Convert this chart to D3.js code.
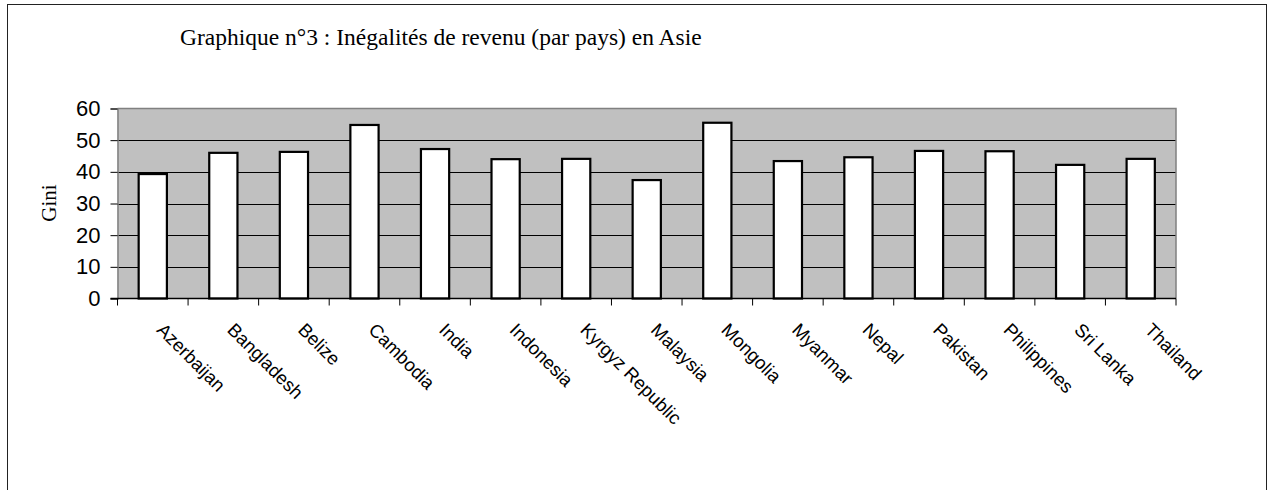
<!DOCTYPE html>
<html>
<head>
<meta charset="utf-8">
<script src="https://cdn.jsdelivr.net/npm/d3@7"></script>
<style>
  html, body { margin: 0; padding: 0; background: #fff; }
  svg { display: block; }
</style>
</head>
<body>
<svg id="chart" width="1273" height="490"></svg>
<script>
const title = "Graphique n°3 : Inégalités de revenu (par pays) en Asie";
const yTitle = "Gini";
const countries = ["Azerbaijan", "Bangladesh", "Belize", "Cambodia", "India", "Indonesia",
  "Kyrgyz Republic", "Malaysia", "Mongolia", "Myanmar", "Nepal", "Pakistan",
  "Philippines", "Sri Lanka", "Thailand"];
const gini = [39.3, 46.0, 46.3, 54.8, 47.2, 44.0, 44.1, 37.4, 55.5, 43.4, 44.6, 46.6, 46.5, 42.2, 44.1];
const yTicks = [0, 10, 20, 30, 40, 50, 60];

const svg = d3.select("#chart");
const W = 1273, H = 490;
const plot = { left: 117.5, right: 1176, top: 108.5, bottom: 298.5 };

svg.append("rect").attr("x", 0).attr("y", 0).attr("width", W).attr("height", H).attr("fill", "#fff");
// outer frame
svg.append("rect").attr("x", 7.5).attr("y", 4.5).attr("width", 1259).attr("height", 520)
  .attr("fill", "none").attr("stroke", "#222").attr("stroke-width", 1);

const y = d3.scaleLinear().domain([0, 60]).range([plot.bottom, plot.top]);
const xCell = d3.scaleBand().domain(countries).range([plot.left, plot.right]).padding(0);
const x = d3.scaleBand().domain(countries).range([plot.left, plot.right])
  .paddingInner(0.6).paddingOuter(0.3);

// plot background
svg.append("rect").attr("x", plot.left).attr("y", plot.top)
  .attr("width", plot.right - plot.left).attr("height", plot.bottom - plot.top)
  .attr("fill", "#c0c0c0");

// gridlines
svg.append("g").selectAll("line").data(yTicks.filter(d => d > 0 && d < 60)).join("line")
  .attr("x1", plot.left).attr("x2", plot.right)
  .attr("y1", d => Math.round(y(d)) + 0.5).attr("y2", d => Math.round(y(d)) + 0.5)
  .attr("stroke", "#000").attr("stroke-width", 1);

// plot border top & right (gray)
svg.append("path")
  .attr("d", `M${plot.left},${plot.top}H${plot.right}V${plot.bottom}`)
  .attr("fill", "none").attr("stroke", "#808080").attr("stroke-width", 1.5);

// bars
svg.append("g").selectAll("rect").data(countries).join("rect")
  .attr("x", d => x(d)).attr("width", x.bandwidth())
  .attr("y", (d, i) => y(gini[i])).attr("height", (d, i) => plot.bottom - y(gini[i]))
  .attr("fill", "#fff").attr("stroke", "#000").attr("stroke-width", 2.2);

// y axis
const yAxis = d3.axisLeft(y).tickValues(yTicks).tickSize(7).tickPadding(10);
const gy = svg.append("g").attr("transform", `translate(${plot.left},0)`).call(yAxis);
gy.select(".domain").attr("stroke", "#808080").attr("stroke-width", 1.5);
gy.selectAll(".tick line").attr("stroke", "#000");
gy.selectAll(".tick text").attr("font-family", "Liberation Sans, Arial, sans-serif")
  .attr("font-size", 22).attr("fill", "#000");

// x axis with ticks at category boundaries
const bounds = countries.map(d => xCell(d)).concat([plot.right]);
svg.append("line").attr("x1", plot.left - 7).attr("x2", plot.right)
  .attr("y1", plot.bottom).attr("y2", plot.bottom).attr("stroke", "#000").attr("stroke-width", 1.5);
svg.append("g").selectAll("line").data(bounds).join("line")
  .attr("x1", d => d).attr("x2", d => d)
  .attr("y1", plot.bottom).attr("y2", plot.bottom + 7)
  .attr("stroke", "#000").attr("stroke-width", 1);

// category labels (rotated 45°)
svg.append("g").selectAll("text").data(countries).join("text")
  .attr("transform", d => `translate(${xCell(d) + xCell.bandwidth() / 2 + 3},331) rotate(45)`)
  .attr("text-anchor", "start")
  .attr("font-family", "Liberation Sans, Arial, sans-serif")
  .attr("font-size", 18.5).attr("fill", "#000")
  .text(d => d);

// title
svg.append("text").attr("x", 180).attr("y", 45)
  .attr("font-family", "Liberation Serif, Times New Roman, serif")
  .attr("font-size", 23.5).attr("fill", "#000").text(title);

// y-axis title
svg.append("text").attr("transform", "translate(56,203) rotate(-90)")
  .attr("text-anchor", "middle")
  .attr("font-family", "Liberation Serif, Times New Roman, serif")
  .attr("font-size", 21).attr("fill", "#000").text(yTitle);
</script>
</body>
</html>
